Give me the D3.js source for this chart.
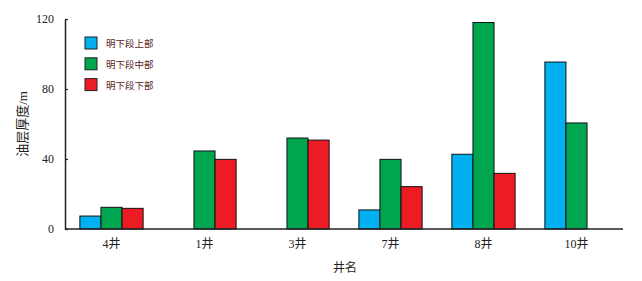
<!DOCTYPE html>
<html>
<head>
<meta charset="utf-8">
<script src="https://cdn.jsdelivr.net/npm/d3@7"></script>
<style>
  body { margin: 0; background: #fff; }
  text { font-family: "Liberation Serif", "Noto Sans CJK SC", serif; }
</style>
</head>
<body>
<svg id="chart" width="642" height="281"></svg>
<script>
// wells along the x axis
const wells = ["4井", "1井", "3井", "7井", "8井", "10井"];
const seriesNames = ["明下段上部", "明下段中部", "明下段下部"];
// oil layer thickness (m), null = no bar
const upper = [7.4, null, null, 10.9, 42.7, 95.4];
const middle = [12.4, 44.6, 52, 39.8, 118, 60.6];
const lower = [11.8, 39.8, 50.8, 24.2, 31.8, null];
const yTicks = [0, 40, 80, 120];
const colors = ["#00b0f0", "#00a550", "#ed1c24"];

const svg = d3.select("#chart");
const plotLeft = 65, plotRight = 623, plotTop = 19, plotBottom = 229;

const x = d3.scaleBand()
    .domain(wells)
    .range([plotLeft, plotRight])
    .paddingInner(0.32)
    .paddingOuter(0.16);

const xSub = d3.scaleBand()
    .domain(d3.range(seriesNames.length))
    .range([0, x.bandwidth()]);

const y = d3.scaleLinear()
    .domain([0, 120])
    .range([plotBottom, plotTop]);

const seriesVals = [upper, middle, lower];

// bars
seriesVals.forEach((vals, s) => {
    svg.append("g")
        .selectAll("rect")
        .data(vals.map((v, i) => ({ well: wells[i], v: v })).filter(d => d.v != null))
        .enter()
        .append("rect")
        .attr("x", d => x(d.well) + xSub(s))
        .attr("y", d => y(d.v))
        .attr("width", xSub.bandwidth())
        .attr("height", d => y(0) - y(d.v))
        .style("fill", colors[s])
        .style("stroke", "#111")
        .style("stroke-width", 1);
});

// y axis with inward ticks
const yAxis = svg.append("g")
    .attr("transform", `translate(${plotLeft},0)`)
    .call(d3.axisRight(y).tickValues(yTicks).tickSize(3).tickSizeOuter(0).tickFormat(""));
yAxis.select(".domain").attr("stroke", "#222").attr("stroke-width", 1.5);
yAxis.selectAll(".tick line").attr("stroke", "#222").attr("stroke-width", 1.2);

svg.append("g")
    .selectAll("text")
    .data(yTicks)
    .enter()
    .append("text")
    .attr("x", 54)
    .attr("y", d => y(d) + 4)
    .attr("text-anchor", "end")
    .style("font-size", "12px")
    .style("fill", "#222")
    .text(d => d);

// x axis line
svg.append("line")
    .attr("x1", plotLeft)
    .attr("x2", plotRight)
    .attr("y1", y(0))
    .attr("y2", y(0))
    .attr("stroke", "#222")
    .attr("stroke-width", 1.5);

svg.append("g")
    .selectAll("text")
    .data(wells)
    .enter()
    .append("text")
    .attr("x", d => x(d) + x.bandwidth() / 2)
    .attr("y", 248)
    .attr("text-anchor", "middle")
    .style("font-size", "12px")
    .style("fill", "#222")
    .text(d => d);

// axis titles
svg.append("text")
    .attr("x", 345)
    .attr("y", 272)
    .attr("text-anchor", "middle")
    .style("font-size", "12px")
    .style("fill", "#222")
    .text("井名");

svg.append("text")
    .attr("transform", "translate(27,124) rotate(-90)")
    .attr("text-anchor", "middle")
    .style("font-size", "13px")
    .style("fill", "#222")
    .text("油层厚度/m");

// legend
const legend = svg.append("g")
    .selectAll("g")
    .data(seriesNames)
    .enter()
    .append("g")
    .attr("transform", (d, i) => `translate(85,${37 + i * 20.8})`);

legend.append("rect")
    .attr("width", 12)
    .attr("height", 12)
    .style("fill", (d, i) => colors[i])
    .style("stroke", "#222")
    .style("stroke-width", 1);

legend.append("text")
    .attr("x", 21)
    .attr("y", 10)
    .style("font-size", "9.5px")
    .style("fill", "#5a1c1c")
    .text(d => d);
</script>
</body>
</html>
